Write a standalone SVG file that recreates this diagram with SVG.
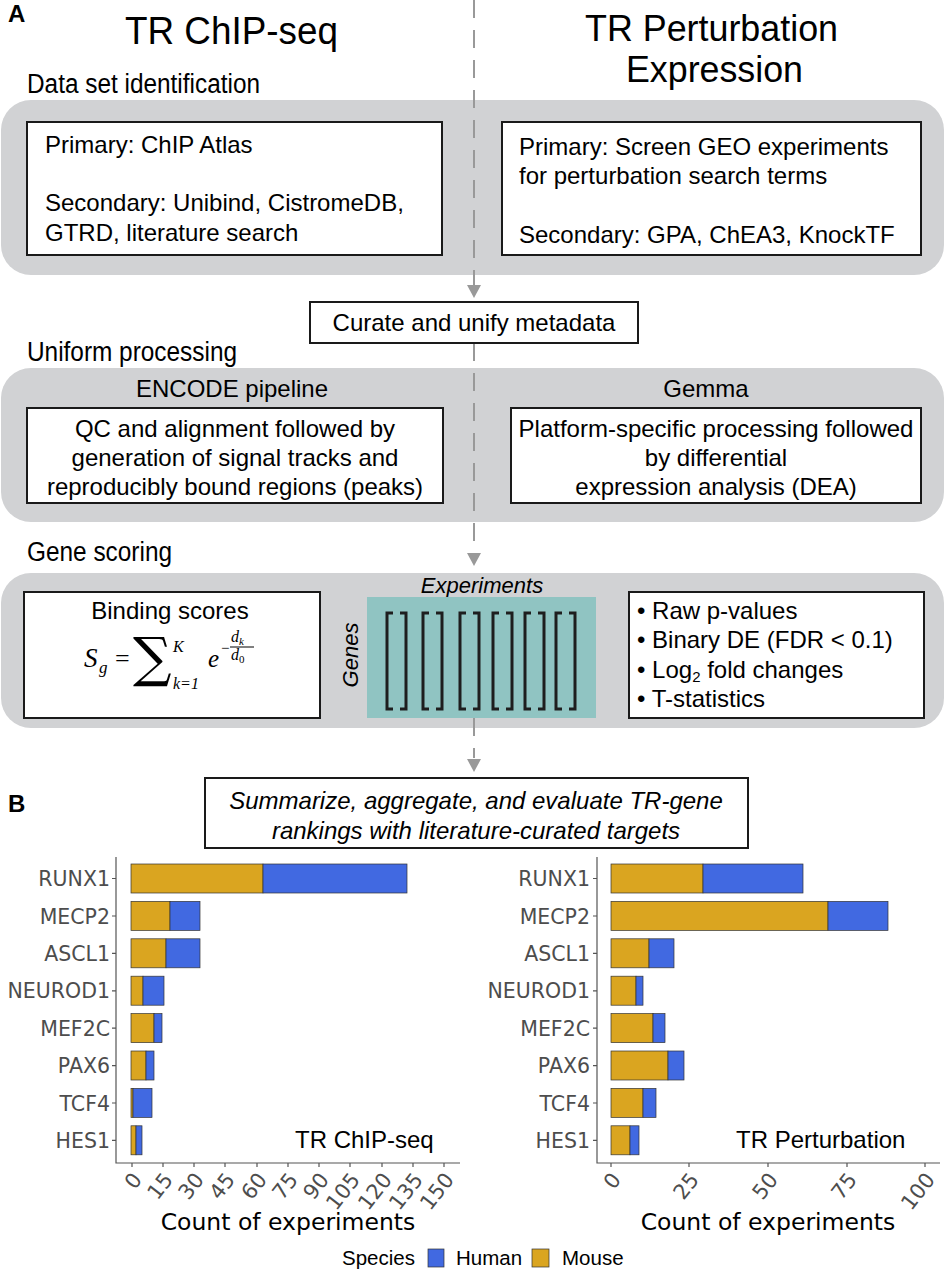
<svg xmlns="http://www.w3.org/2000/svg" width="946" height="1280" viewBox="0 0 946 1280">
<style>
.t{font-family:"Liberation Sans",Arial,sans-serif;fill:#000}
.b{font-size:24px}
.wb{fill:#fff;stroke:#1a1a1a;stroke-width:2}
.gb{fill:#d1d2d4}
.m{font-family:"Liberation Serif","DejaVu Serif",serif;font-style:italic;fill:#000}
.lab{font-family:"DejaVu Sans",sans-serif;font-size:20.5px;fill:#4d4d4d;text-anchor:end}
.tick{font-family:"DejaVu Sans",sans-serif;font-size:21px;fill:#4d4d4d;text-anchor:end}
.ms{fill:#daa520;stroke:#333;stroke-width:0.7}
.hu{fill:#4169e1;stroke:#333;stroke-width:0.7}
.ax{stroke:#555;stroke-width:1.2;fill:none}
.br{fill:none;stroke:#1e1e1e;stroke-width:3}
</style>
<defs>
<path id="brk" d="M6 613 H0 V709 H6 M13 613 H19 V709 H13"/>
</defs>

<text class="t" x="8" y="22" font-size="24" font-weight="bold">A</text>
<text class="t" x="8" y="812" font-size="24" font-weight="bold">B</text>

<text class="t" x="125" y="44" font-size="38" textLength="213" lengthAdjust="spacingAndGlyphs">TR ChIP-seq</text>
<text class="t" x="585" y="41" font-size="36" textLength="253" lengthAdjust="spacingAndGlyphs">TR Perturbation</text>
<text class="t" x="626" y="82" font-size="36" textLength="177" lengthAdjust="spacingAndGlyphs">Expression</text>

<text class="t" x="27" y="93" font-size="27" textLength="233" lengthAdjust="spacingAndGlyphs">Data set identification</text>
<text class="t" x="27" y="361" font-size="27" textLength="210" lengthAdjust="spacingAndGlyphs">Uniform processing</text>
<text class="t" x="27" y="561" font-size="27" textLength="145" lengthAdjust="spacingAndGlyphs">Gene scoring</text>

<g id="bands">
<rect class="gb" x="1" y="100" width="943" height="175" rx="30"/>
<rect class="gb" x="1" y="368" width="943" height="154" rx="30"/>
<rect class="gb" x="1" y="573" width="943" height="155" rx="30"/>
</g>

<g id="connectors" stroke="#999" stroke-width="2" fill="#999">
<path d="M474 0 V285 M474 343 V552 M474 718 V758" fill="none" stroke-dasharray="18 12"/>
<path d="M467 285 L481 285 L474 298 Z" stroke="none"/>
<path d="M467 553 L481 553 L474 566 Z" stroke="none"/>
<path d="M467 759 L481 759 L474 772 Z" stroke="none"/>
</g>

<g id="chip-sources">
<rect class="wb" x="27" y="122" width="415" height="133"/>
<text class="t b" x="45" y="153">Primary: ChIP Atlas</text>
<text class="t b" x="45" y="211">Secondary: Unibind, CistromeDB,</text>
<text class="t b" x="45" y="241">GTRD, literature search</text>
</g>

<g id="expr-sources">
<rect class="wb" x="502" y="122" width="419" height="133"/>
<text class="t b" x="519" y="155">Primary: Screen GEO experiments</text>
<text class="t b" x="519" y="184">for perturbation search terms</text>
<text class="t b" x="519" y="243">Secondary: GPA, ChEA3, KnockTF</text>
</g>

<g id="curate">
<rect class="wb" x="310" y="302" width="328" height="41"/>
<text class="t b" x="474" y="331" text-anchor="middle">Curate and unify metadata</text>
</g>

<g id="encode">
<text class="t b" x="232" y="397" text-anchor="middle">ENCODE pipeline</text>
<rect class="wb" x="27" y="408" width="416" height="95"/>
<text class="t b" x="235" y="437" text-anchor="middle">QC and alignment followed by</text>
<text class="t b" x="235" y="466" text-anchor="middle">generation of signal tracks and</text>
<text class="t b" x="235" y="495" text-anchor="middle">reproducibly bound regions (peaks)</text>
</g>

<g id="gemma">
<text class="t b" x="706" y="397" text-anchor="middle">Gemma</text>
<rect class="wb" x="511" y="408" width="410" height="95"/>
<text class="t b" x="716" y="437" text-anchor="middle">Platform-specific processing followed</text>
<text class="t b" x="716" y="466" text-anchor="middle">by differential</text>
<text class="t b" x="716" y="495" text-anchor="middle">expression analysis (DEA)</text>
</g>

<g id="binding">
<rect class="wb" x="24" y="592" width="296" height="126"/>
<text class="t b" x="170" y="619" text-anchor="middle">Binding scores</text>
<text class="m" x="84" y="667" font-size="27">S</text>
<text class="m" x="99" y="673" font-size="17">g</text>
<text x="115" y="667" font-size="26" font-family="Liberation Serif,serif">=</text>
<text x="133" y="676" font-size="54" font-family="DejaVu Serif,serif">∑</text>
<text class="m" x="173" y="652" font-size="16">K</text>
<text class="m" x="173" y="689" font-size="16">k=1</text>
<text class="m" x="208" y="667" font-size="25">e</text>
<text x="221" y="653" font-size="15" font-family="Liberation Serif,serif">−</text>
<text class="m" x="231" y="642" font-size="16">d<tspan font-size="11" dy="3">k</tspan></text>
<path d="M230 647 H254" stroke="#000" stroke-width="1"/>
<text class="m" x="231" y="660" font-size="16">d<tspan font-size="11" dy="3" font-style="normal">0</tspan></text>
</g>

<g id="matrix">
<text class="t" x="482" y="593" font-size="22" font-style="italic" text-anchor="middle">Experiments</text>
<text class="t" x="0" y="0" font-size="22" font-style="italic" text-anchor="middle" transform="translate(358 655) rotate(-90)">Genes</text>
<rect x="367" y="597" width="229" height="121" fill="#90c4c2"/>
<use href="#brk" class="br" x="387"/>
<use href="#brk" class="br" x="423"/>
<use href="#brk" class="br" x="460"/>
<use href="#brk" class="br" x="493"/>
<use href="#brk" class="br" x="525"/>
<use href="#brk" class="br" x="556"/>
</g>

<g id="stats">
<rect class="wb" x="629" y="592" width="295" height="126"/>
<text class="t b" x="637" y="619">• Raw p-values</text>
<text class="t b" x="637" y="648">• Binary DE (FDR &lt; 0.1)</text>
<text class="t b" x="637" y="678">• Log<tspan font-size="15" dy="4">2</tspan><tspan dy="-4"> fold changes</tspan></text>
<text class="t b" x="637" y="707">• T-statistics</text>
</g>

<g id="summary">
<rect class="wb" x="205" y="778" width="543" height="70"/>
<text class="t b" x="476" y="809" text-anchor="middle" font-style="italic">Summarize, aggregate, and evaluate TR-gene</text>
<text class="t b" x="476" y="839" text-anchor="middle" font-style="italic">rankings with literature-curated targets</text>
</g>

<g id="chart-chip">
<path class="ax" d="M116 857 V1163 H460"/>
<g class="ax">
<path d="M112 878.5 H116 M112 916 H116 M112 953.4 H116 M112 990.8 H116 M112 1028.2 H116 M112 1065.6 H116 M112 1103 H116 M112 1140.4 H116"/>
<path d="M132 1163 v4 M163 1163 v4 M194 1163 v4 M225 1163 v4 M257 1163 v4 M288 1163 v4 M319 1163 v4 M350 1163 v4 M382 1163 v4 M413 1163 v4 M444 1163 v4"/>
</g>
<text class="lab" x="110" y="886">RUNX1</text>
<text class="lab" x="110" y="923.5">MECP2</text>
<text class="lab" x="110" y="961">ASCL1</text>
<text class="lab" x="110" y="998">NEUROD1</text>
<text class="lab" x="110" y="1035.5">MEF2C</text>
<text class="lab" x="110" y="1073">PAX6</text>
<text class="lab" x="110" y="1110.5">TCF4</text>
<text class="lab" x="110" y="1148">HES1</text>
<rect class="ms" x="131" y="864" width="132" height="29"/><rect class="hu" x="263" y="864" width="144" height="29"/>
<rect class="ms" x="131" y="901.4" width="39" height="29"/><rect class="hu" x="170" y="901.4" width="30" height="29"/>
<rect class="ms" x="131" y="938.8" width="35" height="29"/><rect class="hu" x="166" y="938.8" width="34" height="29"/>
<rect class="ms" x="131" y="976.2" width="12" height="29"/><rect class="hu" x="143" y="976.2" width="21" height="29"/>
<rect class="ms" x="131" y="1013.6" width="23" height="29"/><rect class="hu" x="154" y="1013.6" width="8" height="29"/>
<rect class="ms" x="131" y="1051" width="15" height="29"/><rect class="hu" x="146" y="1051" width="8" height="29"/>
<rect class="ms" x="131" y="1088.4" width="2" height="29"/><rect class="hu" x="133" y="1088.4" width="19" height="29"/>
<rect class="ms" x="131" y="1125.8" width="5" height="29"/><rect class="hu" x="136" y="1125.8" width="6" height="29"/>
<text class="t" x="295" y="1148" font-size="24">TR ChIP-seq</text>
<text class="tick" transform="translate(143 1180) rotate(-52)">0</text>
<text class="tick" transform="translate(174 1180) rotate(-52)">15</text>
<text class="tick" transform="translate(205 1180) rotate(-52)">30</text>
<text class="tick" transform="translate(236 1180) rotate(-52)">45</text>
<text class="tick" transform="translate(268 1180) rotate(-52)">60</text>
<text class="tick" transform="translate(299 1180) rotate(-52)">75</text>
<text class="tick" transform="translate(330 1180) rotate(-52)">90</text>
<text class="tick" transform="translate(361 1180) rotate(-52)">105</text>
<text class="tick" transform="translate(393 1180) rotate(-52)">120</text>
<text class="tick" transform="translate(424 1180) rotate(-52)">135</text>
<text class="tick" transform="translate(455 1180) rotate(-52)">150</text>
<text x="288" y="1230" font-family="DejaVu Sans,sans-serif" font-size="23.5" text-anchor="middle">Count of experiments</text>
</g>

<g id="chart-perturbation">
<path class="ax" d="M597 857 V1163 H940"/>
<g class="ax">
<path d="M593 878.5 H597 M593 916 H597 M593 953.4 H597 M593 990.8 H597 M593 1028.2 H597 M593 1065.6 H597 M593 1103 H597 M593 1140.4 H597"/>
<path d="M611 1163 v4 M689 1163 v4 M768 1163 v4 M847 1163 v4 M925 1163 v4"/>
</g>
<text class="lab" x="590" y="886">RUNX1</text>
<text class="lab" x="590" y="923.5">MECP2</text>
<text class="lab" x="590" y="961">ASCL1</text>
<text class="lab" x="590" y="998">NEUROD1</text>
<text class="lab" x="590" y="1035.5">MEF2C</text>
<text class="lab" x="590" y="1073">PAX6</text>
<text class="lab" x="590" y="1110.5">TCF4</text>
<text class="lab" x="590" y="1148">HES1</text>
<rect class="ms" x="611" y="864" width="92" height="29"/><rect class="hu" x="703" y="864" width="100" height="29"/>
<rect class="ms" x="611" y="901.4" width="217" height="29"/><rect class="hu" x="828" y="901.4" width="60" height="29"/>
<rect class="ms" x="611" y="938.8" width="38" height="29"/><rect class="hu" x="649" y="938.8" width="25" height="29"/>
<rect class="ms" x="611" y="976.2" width="25" height="29"/><rect class="hu" x="636" y="976.2" width="7" height="29"/>
<rect class="ms" x="611" y="1013.6" width="42" height="29"/><rect class="hu" x="653" y="1013.6" width="12" height="29"/>
<rect class="ms" x="611" y="1051" width="57" height="29"/><rect class="hu" x="668" y="1051" width="16" height="29"/>
<rect class="ms" x="611" y="1088.4" width="32" height="29"/><rect class="hu" x="643" y="1088.4" width="13" height="29"/>
<rect class="ms" x="611" y="1125.8" width="19" height="29"/><rect class="hu" x="630" y="1125.8" width="9" height="29"/>
<text class="t" x="736" y="1148" font-size="24">TR Perturbation</text>
<text class="tick" transform="translate(622 1180) rotate(-52)">0</text>
<text class="tick" transform="translate(700 1180) rotate(-52)">25</text>
<text class="tick" transform="translate(779 1180) rotate(-52)">50</text>
<text class="tick" transform="translate(858 1180) rotate(-52)">75</text>
<text class="tick" transform="translate(936 1180) rotate(-52)">100</text>
<text x="768" y="1230" font-family="DejaVu Sans,sans-serif" font-size="23.5" text-anchor="middle">Count of experiments</text>
</g>

<g id="legend">
<text class="t" x="342" y="1265" font-size="20.5">Species</text>
<rect class="hu" x="428" y="1249" width="16" height="18"/>
<text class="t" x="456" y="1265" font-size="20.5">Human</text>
<rect class="ms" x="532" y="1249" width="17" height="18"/>
<text class="t" x="562" y="1265" font-size="20.5">Mouse</text>
</g>
</svg>
